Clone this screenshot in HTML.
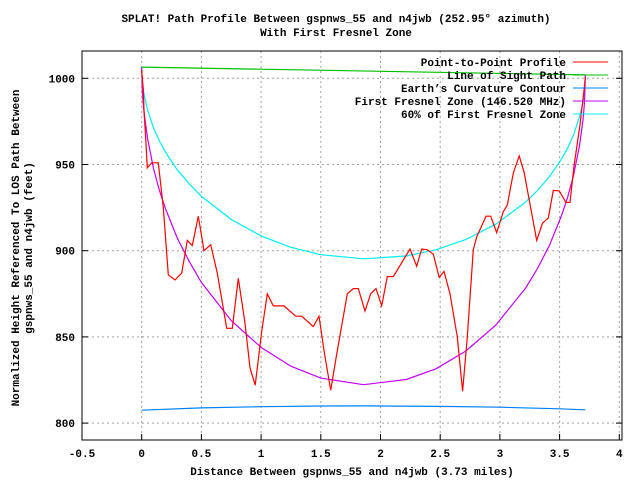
<!DOCTYPE html>
<html><head><meta charset="utf-8"><style>
body{margin:0;background:#fff}
svg{display:block}
text{font-family:"Liberation Mono",monospace;font-size:11px;font-weight:bold;fill:#000}
</style></head><body>
<svg id="chart" width="640" height="480" viewBox="0 0 640 480" xmlns="http://www.w3.org/2000/svg">
<rect width="640" height="480" fill="#fff"/>
<text x="336" y="22" text-anchor="middle">SPLAT! Path Profile Between gspnws_55 and n4jwb (252.95° azimuth)</text>
<text x="336" y="36" text-anchor="middle">With First Fresnel Zone</text>
<g id="grid"></g>
<g id="axes"></g>
<g id="series"></g>
<rect x="82" y="51" width="540" height="389" fill="none" stroke="#000" stroke-width="1"/>
<text x="352" y="475" text-anchor="middle">Distance Between gspnws_55 and n4jwb (3.73 miles)</text>
<g transform="translate(19,248) rotate(-90)"><text x="0" y="0" text-anchor="middle">Normalized Height Referenced To LOS Path Between</text></g>
<g transform="translate(32,248) rotate(-90)"><text x="0" y="0" text-anchor="middle">gspnws_55 and n4jwb (feet)</text></g>
<g id="legend"></g>
</svg>
<script>
const xTicks=[-0.5,0,0.5,1,1.5,2,2.5,3,3.5,4];
const yTicks=[800,850,900,950,1000];
const profileX=[0,0.013,0.019,0.034,0.047,0.084,0.139,0.181,0.223,0.279,0.335,0.382,0.424,0.474,0.522,0.578,0.633,0.712,0.759,0.809,0.865,0.907,0.951,1.005,1.052,1.102,1.192,1.290,1.340,1.437,1.485,1.529,1.583,1.633,1.722,1.772,1.814,1.870,1.918,1.962,2.010,2.057,2.107,2.247,2.303,2.345,2.392,2.442,2.492,2.532,2.582,2.643,2.688,2.727,2.777,2.806,2.884,2.923,2.973,3.028,3.062,3.112,3.162,3.202,3.308,3.358,3.405,3.447,3.497,3.554,3.587,3.620,3.671,3.704,3.715];
const profileY=[1004.6,993,981.5,964,948,951,951,925,886,883,887,906,903,920,900,903.5,887,855,855,884,858,832,822,853,875,868,868,862,862,856,862,841,819,840,875,878,878,865,875,878,868,885,885,901,891,901,900.5,898,884.5,888,875,850,818.5,850,900.5,908,920,920,910.5,922.5,926.5,945,955,945.7,906,916,919,935,934.7,928,928,948.6,973,993,1000.6];
const losX=[0,3.715];
const losY=[1006.5,1002];
const earthX=[0,0.5,1,1.5,1.86,2.5,3,3.5,3.715];
const earthY=[807.5,808.8,809.5,809.9,810,809.7,809.2,808.3,807.7];
const fresnelX=[0,0.005,0.01,0.02,0.05,0.1,0.15,0.2,0.3,0.4,0.5,0.75,1,1.25,1.5,1.8575,2.215,2.465,2.715,2.965,3.215,3.315,3.415,3.515,3.565,3.615,3.665,3.695,3.705,3.71,3.715];
const fresnelY=[1006.5,993.2,987.6,979.9,964.6,947.4,934.6,924.2,907.0,893.5,881.6,859.4,843.9,833.0,826.1,822.3,825.3,831.5,841.8,856.8,878.3,889.7,903.2,920.2,930.5,943.1,960.2,975.4,983.1,988.7,1002];
const fresnel60Y=[1006.5,998.5,995.2,990.6,981.4,971.1,963.4,957.1,946.7,938.7,931.5,918.1,908.6,902.0,897.7,895.3,896.9,900.5,906.5,915.4,928.2,934.9,943.0,953.1,959.2,966.8,977.2,986.1,990.7,994.0,1002];
const legendLabels=["Point-to-Point Profile","Line of Sight Path","Earth’s Curvature Contour","First Fresnel Zone (146.520 MHz)","60% of First Fresnel Zone"];

const NS="http://www.w3.org/2000/svg";
const L=82,R=622,T=51,B=440;
function sx(v){return 141.7+v*119.4;}
function sy(v){return 78.3+(1000-v)*1.724;}
function mk(tag,attrs,parent){const e=document.createElementNS(NS,tag);for(const k in attrs)e.setAttribute(k,attrs[k]);parent.appendChild(e);return e;}
const grid=document.getElementById('grid'),axes=document.getElementById('axes'),series=document.getElementById('series'),legend=document.getElementById('legend');
xTicks.forEach(t=>{const x=sx(t);
 if(x>L+1&&x<R-1){const g=mk('line',{x1:x,x2:x,y1:T,y2:B,stroke:'#a0a0a0','stroke-dasharray':'2,3'},grid);
 
 }
 const tk=mk('line',{x1:x,x2:x,y1:B,y2:B-6,stroke:'#000'},axes);
 
 
 const tx=mk('text',{x:x,y:B+17,'text-anchor':'middle'},axes);tx.textContent=t;
 
 
});
yTicks.forEach(t=>{const y=sy(t);
 const g=mk('line',{x1:L,x2:R,y1:y,y2:y,stroke:'#a0a0a0','stroke-dasharray':'2,3'},grid);
 
 
 const tk=mk('line',{x1:L,x2:L+6,y1:y,y2:y,stroke:'#000'},axes);
 
 
 const tk2=mk('line',{x1:R-6,x2:R,y1:y,y2:y,stroke:'#000'},axes);
 
 
 const tx=mk('text',{x:L-7,y:y+4,'text-anchor':'end'},axes);tx.textContent=t;
 
 
});
const colors=['#ff0000','#00c000','#0080ff','#c000ff','#00eeee'];
const sets=[[profileX,profileY,'profile-line'],[losX,losY,'line-of-sight-line'],[earthX,earthY,'earth-curvature-line'],[fresnelX,fresnelY,'fresnel-zone-line'],[fresnelX,fresnel60Y,'fresnel-60-line']];
legendLabels.forEach((lab,i)=>{const y=62+i*13;
 const tx=mk('text',{x:566,y:y+4,'text-anchor':'end'},legend);tx.textContent=lab;
 
 
 const ln=mk('line',{x1:573,x2:608,y1:y,y2:y,stroke:colors[i],'stroke-width':1},legend);
 
 
});
[4,3,2,1,0].forEach(i=>{const [xs,ys,name]=sets[i];
 const pts=xs.map((v,j)=>sx(v).toFixed(1)+','+sy(ys[j]).toFixed(1)).join(' ');
 const p=mk('polyline',{points:pts,fill:'none',stroke:colors[i],'stroke-width':1.2},series);
 
 
});
</script>
</body></html>
